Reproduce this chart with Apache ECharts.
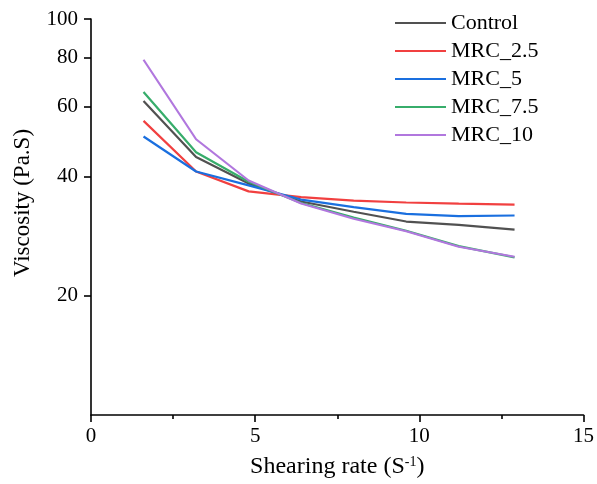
<!DOCTYPE html>
<html>
<head>
<meta charset="utf-8">
<script src="https://cdn.jsdelivr.net/npm/echarts@6/dist/echarts.min.js"></script>
<style>
html,body{margin:0;padding:0;background:#fff;}
#chart{width:597px;height:484px;}
</style>
</head>
<body>
<div id="chart"></div>
<script>
var shearRates = [1.6, 3.2, 4.8, 6.4, 8.0, 9.6, 11.2, 12.9];
var seriesNames = ['Control', 'MRC_2.5', 'MRC_5', 'MRC_7.5', 'MRC_10'];
var control = [62.1, 44.8, 38.4, 34.6, 32.6, 30.8, 30.2, 29.4];
var mrc25 = [55.3, 41.2, 36.7, 35.5, 34.8, 34.4, 34.2, 34.0];
var mrc5 = [50.5, 41.2, 38.0, 35.0, 33.5, 32.2, 31.8, 31.9];
var mrc75 = [65.4, 46.1, 38.8, 34.3, 31.5, 29.2, 26.7, 25.0];
var mrc10 = [78.9, 49.7, 39.1, 34.2, 31.3, 29.1, 26.6, 25.1];
var yTickValues = [20, 40, 60, 80, 100];
var colors = ['#515151', '#F14040', '#1A6FDF', '#37AD6B', '#B177DE'];

var allValues = [control, mrc25, mrc5, mrc75, mrc10];
var FONT = '"Liberation Serif", "Times New Roman", serif';

function pairs(vals) {
  return shearRates.map(function (x, i) { return [x, vals[i]]; });
}

var series = seriesNames.map(function (name, i) {
  return {
    name: name,
    type: 'line',
    data: pairs(allValues[i]),
    symbol: 'none',
    lineStyle: { width: 2.2, color: colors[i] },
    itemStyle: { color: colors[i] },
    z: 2 + i
  };
});

var chart = echarts.init(document.getElementById('chart'), null, { renderer: 'canvas' });
chart.setOption({
  animation: false,
  backgroundColor: '#ffffff',
  grid: { left: 91, right: 11, top: 19, bottom: 66, containLabel: false },
  legend: {
    orient: 'vertical',
    left: 390,
    top: 7,
    itemWidth: 51,
    itemHeight: 14,
    itemGap: 6,
    data: seriesNames.map(function (n, i) {
      return { name: n, icon: 'path://M0,6 L51,6 L51,8 L0,8 Z', itemStyle: { color: colors[i] } };
    }),
    textStyle: { fontFamily: FONT, fontSize: 22, lineHeight: 22, color: '#000' }
  },
  xAxis: {
    type: 'value',
    min: 0, max: 15, interval: 5,
    name: '{a|Shearing rate (S}{s|-1}{a|)}',
    nameLocation: 'middle',
    nameGap: 40,
    nameTextStyle: {
      rich: {
        a: { fontFamily: FONT, fontSize: 24, color: '#000', verticalAlign: 'bottom' },
        s: { fontFamily: FONT, fontSize: 14, color: '#000', verticalAlign: 'top', padding: [0, 0, 10, 0] }
      }
    },
    axisLine: { show: true, onZero: false, lineStyle: { color: '#000', width: 1.6 } },
    axisTick: { show: true, inside: false, length: 7, lineStyle: { color: '#000', width: 1.6 } },
    minorTick: { show: true, splitNumber: 2, length: 4, lineStyle: { color: '#000', width: 1.6 } },
    axisLabel: { fontFamily: FONT, fontSize: 21, color: '#000', margin: 11 },
    splitLine: { show: false }
  },
  yAxis: {
    type: 'log',
    logBase: 10,
    min: 10, max: 100,
    name: 'Viscosity (Pa.S)',
    nameLocation: 'middle',
    nameGap: 57,
    nameTextStyle: { fontFamily: FONT, fontSize: 23, color: '#000', padding: [0, 0, 0, 28] },
    axisLine: { show: true, onZero: false, lineStyle: { color: '#000', width: 1.6 } },
    axisTick: { show: true, inside: false, length: 7, customValues: yTickValues, lineStyle: { color: '#000', width: 1.6 } },
    axisLabel: { fontFamily: FONT, fontSize: 21, color: '#000', margin: 13, customValues: yTickValues },
    minorTick: { show: false },
    splitLine: { show: false }
  },
  series: series
});
</script>
</body>
</html>
